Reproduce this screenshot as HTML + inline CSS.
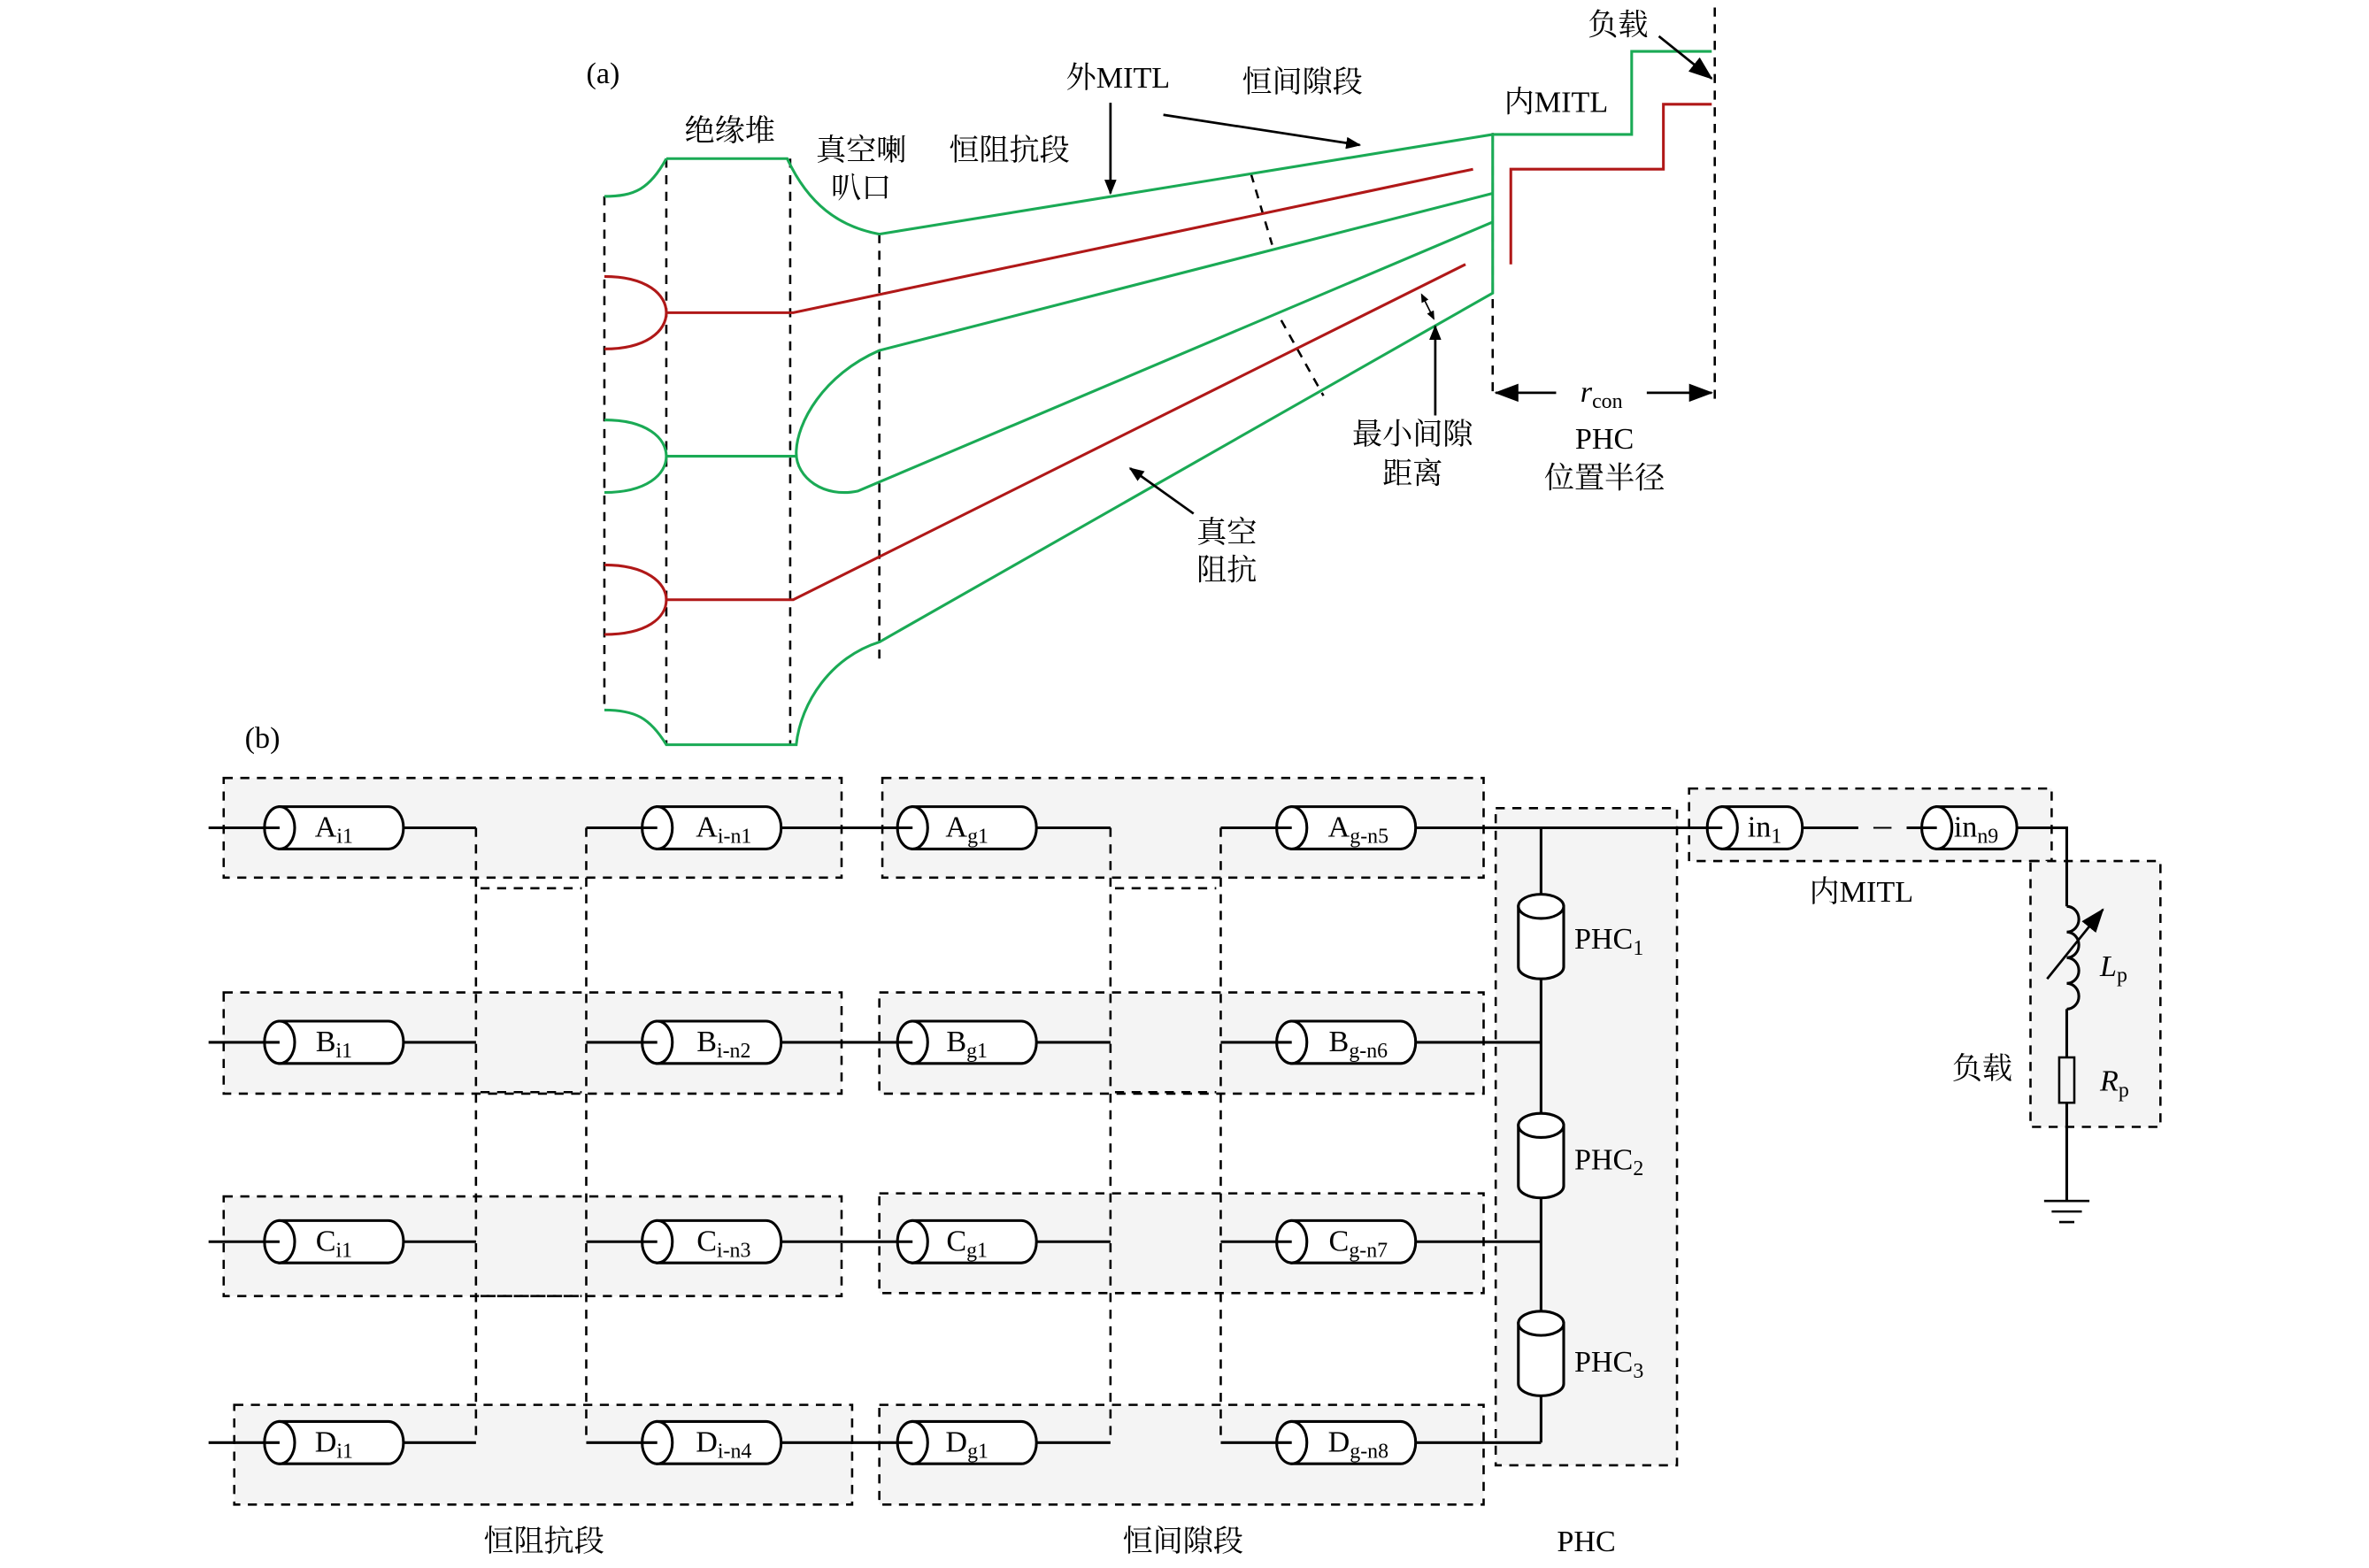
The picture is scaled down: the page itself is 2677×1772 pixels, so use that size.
<!DOCTYPE html>
<html><head><meta charset="utf-8">
<style>
html,body{margin:0;padding:0;background:#fff;}
svg{display:block;}
text{font-family:"Liberation Serif","Noto Serif CJK SC","Noto Sans CJK SC",serif;fill:#000;}
</style></head>
<body>
<svg width="2677" height="1772" viewBox="0 0 1568 1038" xmlns="http://www.w3.org/2000/svg">
<defs>
<g id="cyl">
<path d="M10,-14 H82 A10,14 0 0 1 82,14 H10 Z" fill="#fff" stroke="#000" stroke-width="1.8"/>
<ellipse cx="10" cy="0" rx="10" ry="14" fill="#fff" stroke="#000" stroke-width="1.8"/>
</g>
<g id="scyl">
<path d="M10,-14 H53 A10,14 0 0 1 53,14 H10 Z" fill="#fff" stroke="#000" stroke-width="1.8"/>
<ellipse cx="10" cy="0" rx="10" ry="14" fill="#fff" stroke="#000" stroke-width="1.8"/>
</g>
<g id="vcyl">
<path d="M-15,0 V40 A15,8 0 0 0 15,40 V0 Z" fill="#fff" stroke="#000" stroke-width="1.8"/>
<ellipse cx="0" cy="0" rx="15" ry="8" fill="#fff" stroke="#000" stroke-width="1.8"/>
</g>
<marker id="ah" markerWidth="10" markerHeight="8" refX="9" refY="4" orient="auto" markerUnits="userSpaceOnUse"><path d="M0,0 L10,4 L0,8 Z" fill="#000"/></marker>
<marker id="ahm" markerWidth="6" markerHeight="5" refX="5" refY="2.5" orient="auto" markerUnits="userSpaceOnUse"><path d="M0,0 L6,2.5 L0,5 Z" fill="#000"/></marker>
<marker id="ahms" markerWidth="6" markerHeight="5" refX="1" refY="2.5" orient="auto" markerUnits="userSpaceOnUse"><path d="M6,0 L0,2.5 L6,5 Z" fill="#000"/></marker>
<marker id="ahb" markerWidth="16" markerHeight="12" refX="15" refY="6" orient="auto" markerUnits="userSpaceOnUse"><path d="M0,0 L16,6 L0,12 Z" fill="#000"/></marker>
</defs>

<!-- ===== (a) ===== -->
<text x="388" y="55" font-size="20">(a)</text>
<g fill="none" stroke="#000" stroke-width="1.5" stroke-dasharray="6,5">
<path d="M400,130 V470"/>
<path d="M441,105 V493 M523,105 V493"/>
<path d="M582,155 V440"/>
<path d="M988,88 V262"/>
<path d="M1135,5 V268"/>
<path d="M828,115 L842,162 M848,212 L876,262"/>
</g>
<g fill="none" stroke="#1aaa55" stroke-width="1.8">
<path d="M400,130 C420,130 430,125 441,105 M441,105 H521 C535,135 555,150 582,155 L988,89 H1080 V34 H1133"/>
<path d="M400,470 C420,470 430,475 441,493 H527 C530,465 550,435 582,425 L988,194 V89"/>
<path d="M400,278 C428,278 441,290 441,302 C441,314 428,326 400,326 M441,302 H527"/>
<path d="M988,128 L582,232 C545,248 527,280 527,300 C527,316 545,330 568,325 L988,147"/>
</g>
<g fill="none" stroke="#b01818" stroke-width="1.8">
<path d="M400,183 C428,183 441,195 441,207 C441,219 428,231 400,231 M441,207 H525 L975,112"/>
<path d="M400,374 C428,374 441,386 441,397 C441,409 428,420 400,420 M441,397 H525 L970,175"/>
<path d="M1000,175 V112 H1101 V69 H1133"/>
</g>
<g stroke="#000" stroke-width="1.6" fill="none">
<path d="M735,68 V128" marker-end="url(#ah)"/>
<path d="M770,76 L900,96" marker-end="url(#ah)"/>
<path d="M1098,24 L1133,52" marker-end="url(#ahb)"/>
<path d="M950,275 V216" marker-end="url(#ah)"/>
<path d="M941,195 L949,211" marker-end="url(#ahm)" marker-start="url(#ahms)" stroke-width="1"/>
<path d="M790,340 L748,310" marker-end="url(#ah)"/>
<path d="M1090,260 H1133" marker-end="url(#ahb)"/>
<path d="M1030,260 H990" marker-end="url(#ahb)"/>
</g>
<g font-size="20">
<text x="483" y="93" text-anchor="middle">绝缘堆</text>
<text x="570" y="106" text-anchor="middle">真空喇</text>
<text x="570" y="131" text-anchor="middle">叭口</text>
<text x="668" y="106" text-anchor="middle">恒阻抗段</text>
<text x="740" y="58" text-anchor="middle">外MITL</text>
<text x="862" y="61" text-anchor="middle">恒间隙段</text>
<text x="1030" y="74" text-anchor="middle">内MITL</text>
<text x="1071" y="23" text-anchor="middle">负载</text>
<text x="935" y="294" text-anchor="middle">最小间隙</text>
<text x="935" y="320" text-anchor="middle">距离</text>
<text x="1062" y="297" text-anchor="middle">PHC</text>
<text x="1062" y="323" text-anchor="middle">位置半径</text>
<text x="812" y="359" text-anchor="middle">真空</text>
<text x="812" y="384" text-anchor="middle">阻抗</text>
<text x="1060" y="266" text-anchor="middle"><tspan font-style="italic">r</tspan><tspan font-size="14" dy="4">con</tspan></text>
</g>

<!-- ===== (b) ===== -->
<text x="162" y="495" font-size="20">(b)</text>
<g fill="#f4f4f4" stroke="#000" stroke-width="1.5" stroke-dasharray="6,5">
<rect x="148" y="515" width="409" height="66"/>
<rect x="584" y="515" width="398" height="66"/>
<rect x="148" y="657" width="409" height="67"/>
<rect x="582" y="657" width="400" height="67"/>
<rect x="148" y="792" width="409" height="66"/>
<rect x="582" y="790" width="400" height="66"/>
<rect x="155" y="930" width="409" height="66"/>
<rect x="582" y="930" width="400" height="66"/>
<rect x="990" y="535" width="120" height="435"/>
<rect x="1118" y="522" width="240" height="48"/>
<rect x="1344" y="570" width="86" height="176"/>
</g>
<g fill="none" stroke="#000" stroke-width="1.5" stroke-dasharray="6,5">
<path d="M315,548 V955 M388,548 V955 M735,548 V955 M808,548 V955"/>
<path d="M318,588 H385 M318,723 H385 M318,858 H385 M738,588 H805 M738,723 H805 M738,856 H805"/>
</g>
<g>
<use href="#cyl" x="175" y="548"/><use href="#cyl" x="425" y="548"/><use href="#cyl" x="594" y="548"/><use href="#cyl" x="845" y="548"/>
<use href="#cyl" x="175" y="690"/><use href="#cyl" x="425" y="690"/><use href="#cyl" x="594" y="690"/><use href="#cyl" x="845" y="690"/>
<use href="#cyl" x="175" y="822"/><use href="#cyl" x="425" y="822"/><use href="#cyl" x="594" y="822"/><use href="#cyl" x="845" y="822"/>
<use href="#cyl" x="175" y="955"/><use href="#cyl" x="425" y="955"/><use href="#cyl" x="594" y="955"/><use href="#cyl" x="845" y="955"/>
</g>
<g fill="none" stroke="#000" stroke-width="1.8">
<path d="M138,548 H185 M267,548 H315 M388,548 H435 M517,548 H604 M686,548 H735 M808,548 H855 M937,548 H1140"/>
<path d="M138,690 H185 M267,690 H315 M388,690 H435 M517,690 H604 M686,690 H735 M808,690 H855 M937,690 H1020"/>
<path d="M138,822 H185 M267,822 H315 M388,822 H435 M517,822 H604 M686,822 H735 M808,822 H855 M937,822 H1020"/>
<path d="M138,955 H185 M267,955 H315 M388,955 H435 M517,955 H604 M686,955 H735 M808,955 H855 M937,955 H1020"/>
<path d="M1020,548 V955"/>
</g>
<use href="#vcyl" x="1020" y="600"/>
<use href="#vcyl" x="1020" y="745"/>
<use href="#vcyl" x="1020" y="876"/>
<use href="#scyl" x="1130" y="548"/>
<use href="#scyl" x="1272" y="548"/>
<g fill="none" stroke="#000" stroke-width="1.8">
<path d="M1130,548 H1140"/>
<path d="M1193,548 H1230 M1262,548 H1282"/>
<path d="M1240,548 H1252" stroke-width="1.2"/>
<path d="M1335,548 H1368 V600"/>
<path d="M1368,600 a8,8.5 0 0 1 0,17 a8,8.5 0 0 1 0,17 a8,8.5 0 0 1 0,17 a8,8.5 0 0 1 0,17"/>
<path d="M1368,668 V700 M1368,730 V795"/>
<rect x="1363" y="700" width="10" height="30" stroke-width="1.5"/>
<path d="M1353,795 H1383 M1358,802 H1378 M1363,809 H1373" stroke-width="1.5"/>
</g>
<path d="M1355,648 L1392,602" stroke="#000" stroke-width="1.6" marker-end="url(#ahb)"/>
<g font-size="20">
<text x="221" y="554" text-anchor="middle">A<tspan font-size="14" dy="4">i1</tspan></text>
<text x="479" y="554" text-anchor="middle">A<tspan font-size="14" dy="4">i-n1</tspan></text>
<text x="640" y="554" text-anchor="middle">A<tspan font-size="14" dy="4">g1</tspan></text>
<text x="899" y="554" text-anchor="middle">A<tspan font-size="14" dy="4">g-n5</tspan></text>
<text x="221" y="696" text-anchor="middle">B<tspan font-size="14" dy="4">i1</tspan></text>
<text x="479" y="696" text-anchor="middle">B<tspan font-size="14" dy="4">i-n2</tspan></text>
<text x="640" y="696" text-anchor="middle">B<tspan font-size="14" dy="4">g1</tspan></text>
<text x="899" y="696" text-anchor="middle">B<tspan font-size="14" dy="4">g-n6</tspan></text>
<text x="221" y="828" text-anchor="middle">C<tspan font-size="14" dy="4">i1</tspan></text>
<text x="479" y="828" text-anchor="middle">C<tspan font-size="14" dy="4">i-n3</tspan></text>
<text x="640" y="828" text-anchor="middle">C<tspan font-size="14" dy="4">g1</tspan></text>
<text x="899" y="828" text-anchor="middle">C<tspan font-size="14" dy="4">g-n7</tspan></text>
<text x="221" y="961" text-anchor="middle">D<tspan font-size="14" dy="4">i1</tspan></text>
<text x="479" y="961" text-anchor="middle">D<tspan font-size="14" dy="4">i-n4</tspan></text>
<text x="640" y="961" text-anchor="middle">D<tspan font-size="14" dy="4">g1</tspan></text>
<text x="899" y="961" text-anchor="middle">D<tspan font-size="14" dy="4">g-n8</tspan></text>
<text x="1168" y="554" text-anchor="middle">in<tspan font-size="14" dy="4">1</tspan></text>
<text x="1308" y="554" text-anchor="middle">in<tspan font-size="14" dy="4">n9</tspan></text>
<text x="1042" y="628">PHC<tspan font-size="14" dy="4">1</tspan></text>
<text x="1042" y="774">PHC<tspan font-size="14" dy="4">2</tspan></text>
<text x="1042" y="908">PHC<tspan font-size="14" dy="4">3</tspan></text>
<text x="1232" y="597" text-anchor="middle">内MITL</text>
<text x="1390" y="646" font-style="italic">L<tspan font-size="14" dy="4" font-style="normal">p</tspan></text>
<text x="1390" y="722" font-style="italic">R<tspan font-size="14" dy="4" font-style="normal">p</tspan></text>
<text x="1312" y="714" text-anchor="middle">负载</text>
<text x="360" y="1027" text-anchor="middle">恒阻抗段</text>
<text x="783" y="1027" text-anchor="middle">恒间隙段</text>
<text x="1050" y="1027" text-anchor="middle">PHC</text>
</g>
</svg>
</body></html>
